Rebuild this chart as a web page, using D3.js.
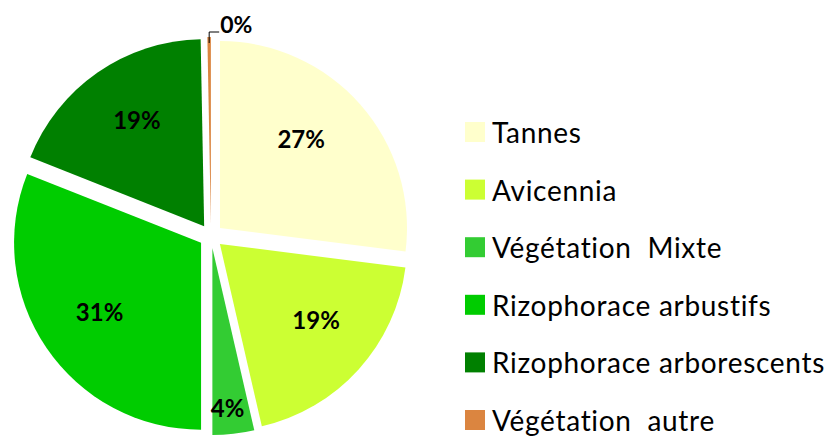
<!DOCTYPE html>
<html>
<head>
<meta charset="utf-8">
<script src="https://cdn.jsdelivr.net/npm/d3@7"></script>
<style>
  html, body { margin: 0; padding: 0; background: #fff; }
  svg { display: block; }
</style>
</head>
<body>
<svg id="chart" width="828" height="437"></svg>
<script>
// Land-cover shares (percent)
const categories = ["Tannes", "Avicennia", "Végétation  Mixte", "Rizophorace arbustifs", "Rizophorace arborescents", "Végétation  autre"];
const values = [27.0, 19.4, 3.6, 31.0, 18.7, 0.3];
const labels = ["27%", "19%", "4%", "31%", "19%", "0%"];
const colors = ["#FFFFCC", "#CCFF33", "#33CC33", "#00CC00", "#008000", "#DB8540"];

const svg = d3.select("#chart");
const cx = 211, cy = 236, radius = 187, explode = 12;

// Fine placement tweaks for the in-slice labels (px)
const labelShift = [[-10, -9], [6, -6], [-3, 0], [-1, 0], [2, -7], [0, 0]];

const pie = d3.pie().sort(null).value(d => d.value).startAngle(0).endAngle(2 * Math.PI);
const arc = d3.arc().innerRadius(0).outerRadius(radius);
const data = categories.map((c, i) => ({ name: c, value: values[i], label: labels[i], color: colors[i], i }));
const arcs = pie(data);

const mid = d => (d.startAngle + d.endAngle) / 2;
const offset = d => [Math.sin(mid(d)) * explode, -Math.cos(mid(d)) * explode];

const g = svg.append("g").attr("transform", `translate(${cx},${cy})`);

const slices = g.selectAll("g.slice").data(arcs).join("g")
  .attr("class", "slice")
  .attr("transform", d => `translate(${offset(d)[0]},${offset(d)[1]})`);

slices.append("path")
  .attr("d", arc)
  .attr("fill", d => d.data.color);

const labelFont = "Lato, 'Open Sans', sans-serif";

// In-slice percentage labels (tiny slice gets a leader line instead)
const lr = d => radius * (d.data.value < 5 ? 0.86 : 0.65);
slices.filter(d => d.data.value >= 1).append("text")
  .attr("x", d => Math.sin(mid(d)) * lr(d) + labelShift[d.data.i][0])
  .attr("y", d => -Math.cos(mid(d)) * lr(d) + labelShift[d.data.i][1])
  .attr("text-anchor", "middle")
  .attr("dominant-baseline", "central")
  .attr("font-family", labelFont)
  .attr("font-weight", "bold")
  .attr("font-size", 24)
  .attr("fill", "#000")
  .text(d => d.data.label);

const small = slices.filter(d => d.data.value < 1);
small.each(function(d) {
  const a = mid(d);
  const px = Math.sin(a) * (radius - 6), py = -Math.cos(a) * (radius - 6);
  const sel = d3.select(this);
  sel.append("path")
    .attr("d", `M${px},${py} L${px},${py - 11} L${px + 10},${py - 11}`)
    .attr("fill", "none")
    .attr("stroke", "#000")
    .attr("stroke-width", 1);
  sel.append("text")
    .attr("x", px + 11)
    .attr("y", py - 10)
    .attr("font-family", labelFont)
    .attr("font-weight", "bold")
    .attr("font-size", 23)
    .attr("fill", "#000")
    .text(d.data.label);
});

// Legend
const legendY = d3.scalePoint().domain(categories).range([132, 420]);
const legend = svg.append("g").selectAll("g").data(data).join("g")
  .attr("transform", d => `translate(465,${legendY(d.name)})`);
legend.append("rect")
  .attr("x", 0).attr("y", -10).attr("width", 20).attr("height", 20)
  .attr("fill", d => d.color);
legend.append("text")
  .attr("x", 27).attr("y", 11)
  .attr("font-family", "Lato, 'Open Sans', sans-serif")
  .attr("font-size", 28)
  .attr("letter-spacing", 0.7)
  .attr("fill", "#000")
  .style("white-space", "pre")
  .text(d => d.name);
</script>
</body>
</html>
